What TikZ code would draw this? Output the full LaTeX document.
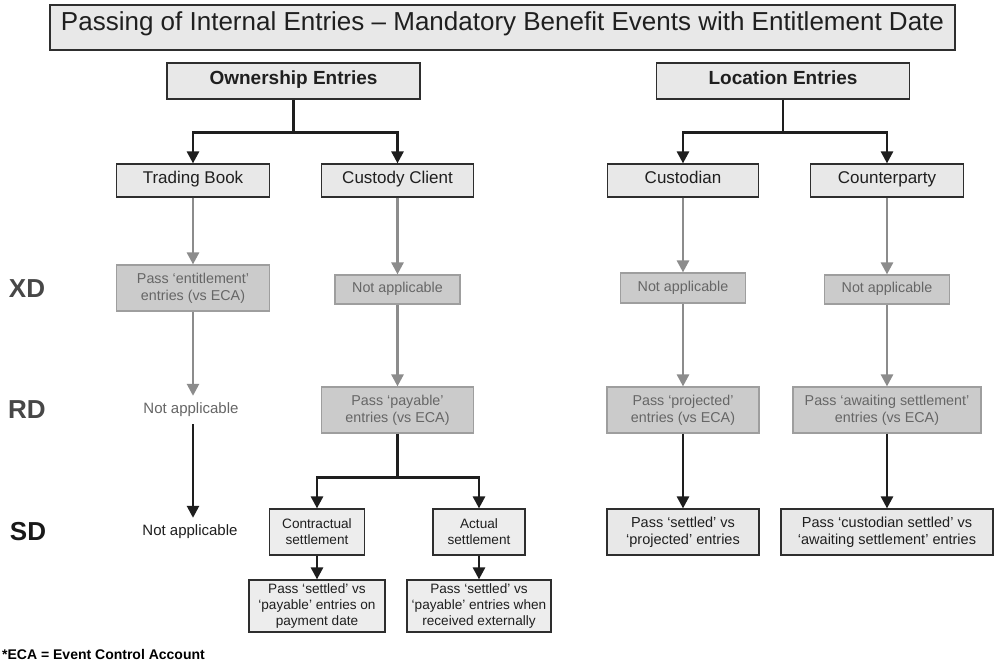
\documentclass[tikz,border=0pt]{standalone}
\usepackage{fontspec}
\setmainfont{Liberation Sans}
\usetikzlibrary{arrows.meta}
\definecolor{boxfill}{HTML}{E8E8E8}
\definecolor{boxdraw}{HTML}{2E2E2E}
\definecolor{gfill}{HTML}{CBCBCB}
\definecolor{gdraw}{HTML}{9E9E9E}
\definecolor{gtext}{HTML}{666666}
\definecolor{garrow}{HTML}{8C8C8C}
\definecolor{barrow}{HTML}{1E1E1E}
\definecolor{lbltext}{HTML}{474747}
\begin{document}
\begin{tikzpicture}[x=1pt,y=-1pt,
  lightbox/.style={draw=boxdraw, fill=boxfill, line width=1.2pt, inner sep=0pt, align=center, text=black!88},
  oneline/.style={text height=0.72em, text depth=0.06em},
  greybox/.style={draw=gdraw, fill=gfill, line width=1.2pt, inner sep=0pt, align=center, text=gtext, font=\fontsize{14.3}{17}\selectfont},
  smallbox/.style={lightbox, fill=boxfill!80!white, font=\fontsize{13.6}{16}\selectfont},
  headbox/.style={lightbox, oneline, minimum width=253pt, minimum height=36pt, font=\bfseries\fontsize{19}{22}\selectfont},
  subbox/.style={lightbox, oneline, minimum height=33pt, font=\fontsize{17}{20}\selectfont},
  rowlbl/.style={font=\bfseries\fontsize{26}{30}\selectfont, text=lbltext, inner sep=0pt},
  natext/.style={font=\fontsize{15}{18}\selectfont, inner xsep=0pt, inner ysep=7pt},
  blkline/.style={draw=barrow, line width=2.6pt},
  blk/.style={blkline, -{Triangle[length=12pt,width=12pt]}},
  gry/.style={draw=garrow, line width=2.6pt, -{Triangle[length=12pt,width=12pt]}}]
\fill[white] (0,0) rectangle (997,666);
\useasboundingbox (0,0) rectangle (997,666);

% title
\node[lightbox, oneline, line width=1.6pt, minimum width=905pt, minimum height=45pt,
      font=\fontsize{26}{30}\selectfont] (title) at (502.5,27.5)
  {Passing of Internal Entries – Mandatory Benefit Events with Entitlement Date};

% headers
\node[headbox] (own) at (293.5,81) {Ownership Entries};
\node[headbox] (loc) at (783,81) {Location Entries};

% second level
\node[subbox, minimum width=153pt] (tb) at (193,180.5) {Trading Book};
\node[subbox, minimum width=152pt] (cc) at (397.5,180.5) {Custody Client};
\node[subbox, minimum width=151pt] (cu) at (683,180.5) {Custodian};
\node[subbox, minimum width=153pt] (cp) at (887,180.5) {Counterparty};

% row labels
\node[rowlbl] (xd) at (27,289) {XD};
\node[rowlbl] (rd) at (27,410) {RD};
\node[rowlbl, text=black!90] (sd) at (28,532) {SD};

% XD row
\node[greybox, minimum width=153pt, minimum height=46pt] (xd1) at (193,288) {Pass ‘entitlement’\\entries (vs ECA)};
\node[greybox, oneline, minimum width=125pt, minimum height=29pt] (xd2) at (397.5,289.5) {Not applicable};
\node[greybox, oneline, minimum width=125pt, minimum height=30pt] (xd3) at (683,288) {Not applicable};
\node[greybox, oneline, minimum width=125pt, minimum height=29pt] (xd4) at (887,289.5) {Not applicable};

% RD row
\node[natext, text=gtext] (rd1) at (191,410) {Not applicable};
\node[greybox, minimum width=152pt, minimum height=46pt] (rd2) at (397.5,410) {Pass ‘payable’\\entries (vs ECA)};
\node[greybox, minimum width=152pt, minimum height=46pt] (rd3) at (683,410) {Pass ‘projected’\\entries (vs ECA)};
\node[greybox, minimum width=188pt, minimum height=46pt] (rd4) at (887,410) {Pass ‘awaiting settlement’\\entries (vs ECA)};

% SD row
\node[natext, text=black!88] (sd1) at (190,532) {Not applicable};
\node[smallbox, minimum width=95pt, minimum height=46pt] (con) at (317,532) {Contractual\\settlement};
\node[smallbox, minimum width=92pt, minimum height=46pt] (act) at (479,532) {Actual\\settlement};
\node[smallbox, minimum width=136pt, minimum height=52pt] (ps1) at (317,606) {Pass ‘settled’ vs\\‘payable’ entries on\\payment date};
\node[smallbox, minimum width=144pt, minimum height=52pt] (ps2) at (479,606) {Pass ‘settled’ vs\\‘payable’ entries when\\received externally};
\node[lightbox, font=\fontsize{14.5}{17}\selectfont, minimum width=152pt, minimum height=46pt] (sd3) at (683,532) {Pass ‘settled’ vs\\‘projected’ entries};
\node[lightbox, font=\fontsize{14.5}{17}\selectfont, minimum width=212pt, minimum height=46pt] (sd4) at (887,532) {Pass ‘custodian settled’ vs\\‘awaiting settlement’ entries};

% footnote
\node[anchor=west, inner sep=0pt, font=\bfseries\fontsize{14}{17}\selectfont] (note) at (2,654) {*ECA = Event Control Account};

% connectors: headers to second level
\draw[blkline] (own.south) -- ++(0,33) coordinate (ownhub);
\draw[blk] (ownhub) -| (tb.north);
\draw[blk] (ownhub) -| (cc.north);
\draw[blkline] (loc.south) -- ++(0,33) coordinate (lochub);
\draw[blk] (lochub) -| (cu.north);
\draw[blk] (lochub) -| (cp.north);

% grey connectors
\draw[gry] (tb) -- (tb |- xd1.north);
\draw[gry] (xd1) -- (xd1 |- rd1.north);
\draw[gry] (cc) -- (xd2);
\draw[gry] (xd2) -- (rd2);
\draw[gry] (cu) -- (xd3);
\draw[gry] (xd3) -- (rd3);
\draw[gry] (cp) -- (xd4);
\draw[gry] (xd4) -- (rd4);

% black connectors
\draw[blk] (tb |- rd1.south) -- (tb |- sd1.north);
\draw[blkline] (rd2.south) -- ++(0,44) coordinate (payhub);
\draw[blk] (payhub) -| (con.north);
\draw[blk] (payhub) -| (act.north);
\draw[blk] (con) -- (ps1);
\draw[blk] (act) -- (ps2);
\draw[blk] (rd3) -- (sd3);
\draw[blk] (rd4) -- (sd4);
\end{tikzpicture}
\end{document}
